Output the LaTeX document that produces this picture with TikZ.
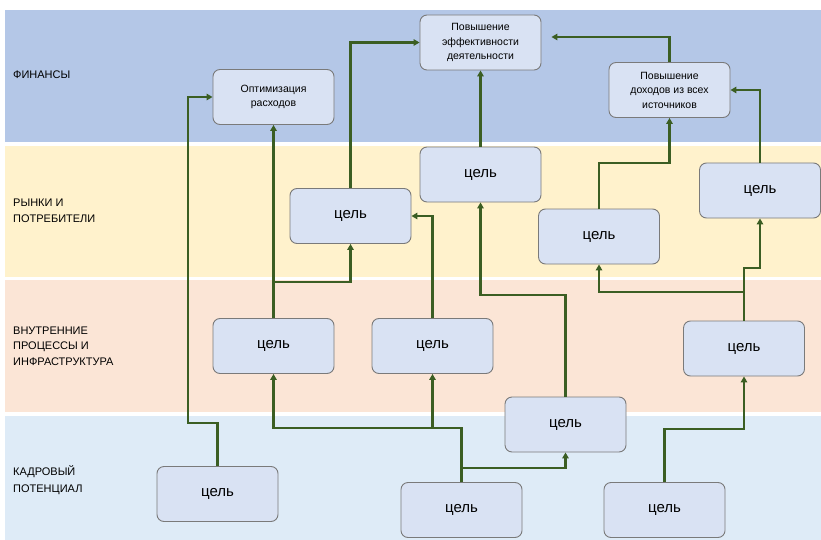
\documentclass[tikz,border=0pt]{standalone}
\usepackage{fontspec}
\setmainfont{Liberation Sans}
\usetikzlibrary{arrows.meta}
\definecolor{bandfin}{HTML}{B4C7E7}
\definecolor{bandmkt}{HTML}{FFF2CC}
\definecolor{bandint}{HTML}{FBE5D6}
\definecolor{bandhr}{HTML}{DEEBF7}
\definecolor{boxfill}{HTML}{D9E2F3}
\definecolor{boxline}{HTML}{7A7A7A}
\definecolor{linkgreen}{HTML}{3B5E23}
\tikzset{
  goal/.style={draw=boxline, line width=0.9pt, fill=boxfill, rounded corners=7pt,
    minimum width=121pt, minimum height=55pt, inner sep=0pt, align=center,
    text=black},
  cel/.style={goal, font=\fontsize{15}{18}\selectfont},
  topgoal/.style={goal, font=\fontsize{10.5}{14.5}\selectfont},
  lanelabel/.style={anchor=west, align=left, inner sep=0pt, text=black,
    font=\fontsize{11}{16.5}\selectfont},
  arr/.style={draw=linkgreen, line width=2.5pt,
    -{Triangle[length=6pt,width=6.5pt]}},
}
\begin{document}
\begin{tikzpicture}[x=1pt,y=-1pt]
\useasboundingbox (0,0) rectangle (821,540);
\fill[white] (0,0) rectangle (821,540);
% bands
\fill[bandfin] (5,10) rectangle (821,142);
\fill[bandmkt] (5,146) rectangle (821,277);
\fill[bandint] (5,280) rectangle (821,412);
\fill[bandhr] (5,416) rectangle (821,540);
% lane labels
\node[lanelabel] (lfin) at (13,75) {ФИНАНСЫ};
\node[lanelabel] (lmkt) at (13,211) {РЫНКИ И\\ПОТРЕБИТЕЛИ};
\node[lanelabel] (lint) at (13,346) {ВНУТРЕННИЕ\\[-1pt]ПРОЦЕССЫ И\\[-1pt]ИНФРАСТРУКТУРА};
\node[lanelabel] (lhr) at (13,480) {КАДРОВЫЙ\\ПОТЕНЦИАЛ};
% goals
\node[topgoal] (opt) at (273.5,97) {Оптимизация\\расходов};
\node[topgoal] (eff) at (480.5,42.5) {Повышение\\эффективности\\деятельности};
\node[topgoal] (inc) at (669.5,90) {Повышение\\доходов из всех\\источников};
\node[cel] (m1) at (350.5,216) {цель};
\node[cel] (m2) at (480.5,174.5) {цель};
\node[cel] (m3) at (599,236.5) {цель};
\node[cel] (m4) at (760,190.5) {цель};
\node[cel] (i1) at (273.5,346) {цель};
\node[cel] (i2) at (432.5,346) {цель};
\node[cel] (i3) at (744,348.5) {цель};
\node[cel] (i4) at (565.5,424.5) {цель};
\node[cel] (h1) at (217.5,494) {цель};
\node[cel] (h2) at (461.5,510) {цель};
\node[cel] (h3) at (664.5,510) {цель};
% junction levels
\coordinate (ja) at (188,423);
\coordinate (jb) at (0,428);
\coordinate (jc) at (0,468);
\coordinate (jd) at (0,295);
\coordinate (je) at (0,282);
\coordinate (jh) at (0,292);
\coordinate (ji) at (0,268);
\coordinate (jk) at (0,163);
\coordinate (jl) at (0,37);
\coordinate (jm) at (0,429);
% connectors
\draw[arr] (h1.north) |- (ja) |- (opt.west);
\draw[arr] (h2.north) |- (i1.south |- jb) -- (i1.south);
\draw[arr] (i2.south |- jb) -- (i2.south);
\draw[arr] (h2.north |- jc) -| (i4.south);
\draw[arr] (i4.north) |- (m2.south |- jd) -- (m2.south);
\draw[arr] (m2.north) -- (eff.south);
\draw[arr] (i1.north) -- (opt.south);
\draw[arr] (i1.north |- je) -| (m1.south);
\draw[arr] (m1.north) |- (eff.west);
\draw[arr] (i2.north) |- (m1.east);
\draw[arr] (i3.north) |- (m3.south |- jh) -- (m3.south);
\draw[arr] (i3.north |- jh) |- (m4.south |- ji) -- (m4.south);
\draw[arr] (m3.north) |- (inc.south |- jk) -- (inc.south);
\draw[arr] (m4.north) |- (inc.east);
\draw[arr, shorten >=10pt] (inc.north) |- (eff.east |- jl);
\draw[arr] (h3.north) |- (i3.south |- jm) -- (i3.south);
\end{tikzpicture}
\end{document}
